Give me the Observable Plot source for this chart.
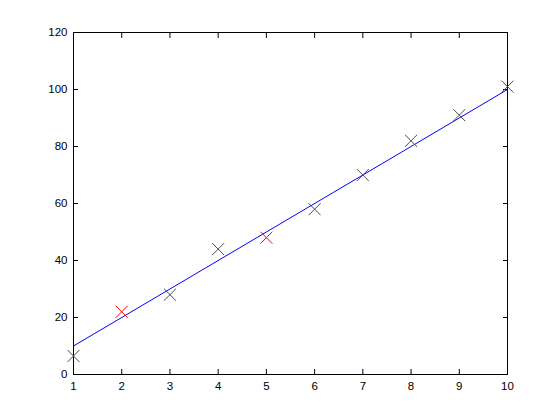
<!DOCTYPE html>
<html>
<head>
<meta charset="utf-8">
<script src="https://cdn.jsdelivr.net/npm/d3@7"></script>
<script src="https://cdn.jsdelivr.net/npm/@observablehq/plot@0.6"></script>
<style>
  html, body { margin: 0; padding: 0; background: #fff; }
  #chart svg { display: block; }
</style>
</head>
<body>
<div id="chart"></div>
<script>
const xValues = [1, 2, 3, 4, 5, 6, 7, 8, 9, 10];
const yValues = [6.5, 22, 28, 44, 48, 58, 70, 82, 91, 101];
const outlierX = [2, 5];
const fitX = [1, 10];
const fitY = [10, 100];
const xTicks = [1, 2, 3, 4, 5, 6, 7, 8, 9, 10];
const yTicks = [0, 20, 40, 60, 80, 100, 120];

const points = xValues.map((x, i) => ({x, y: yValues[i], outlier: outlierX.includes(x)}));
const fit = fitX.map((x, i) => ({x, y: fitY[i]}));

const chart = Plot.plot({
  width: 557,
  height: 420,
  marginLeft: 73,
  marginRight: 50,
  marginTop: 32,
  marginBottom: 46,
  style: {fontFamily: "Liberation Sans, Arial, sans-serif", fontSize: "11px", background: "#fff", color: "#000"},
  x: {domain: [1, 10]},
  y: {domain: [0, 120]},
  marks: [
    Plot.frame({stroke: "#000"}),
    Plot.axisX({anchor: "bottom", ticks: xTicks, tickSize: -5, tickPadding: 12, label: null, fontSize: 11.5}),
    Plot.axisX({anchor: "top", ticks: xTicks, tickSize: -5, tickFormat: () => "", label: null}),
    Plot.axisY({anchor: "left", ticks: yTicks, tickSize: -5, tickPadding: 11, label: null, fontSize: 11.5}),
    Plot.axisY({anchor: "right", ticks: yTicks, tickSize: -5, tickFormat: () => "", label: null}),
    Plot.line(fit, {x: "x", y: "y", stroke: "#0000ff", strokeWidth: 1}),
    Plot.dot(points.filter(d => !d.outlier), {x: "x", y: "y", symbol: "times", r: 5.5, stroke: "#4a4a4a", strokeWidth: 1}),
    Plot.dot(points.filter(d => d.outlier), {x: "x", y: "y", symbol: "times", r: 5.5, stroke: "#ff0000", strokeWidth: 1})
  ]
});
document.getElementById("chart").appendChild(chart);
</script>
</body>
</html>
